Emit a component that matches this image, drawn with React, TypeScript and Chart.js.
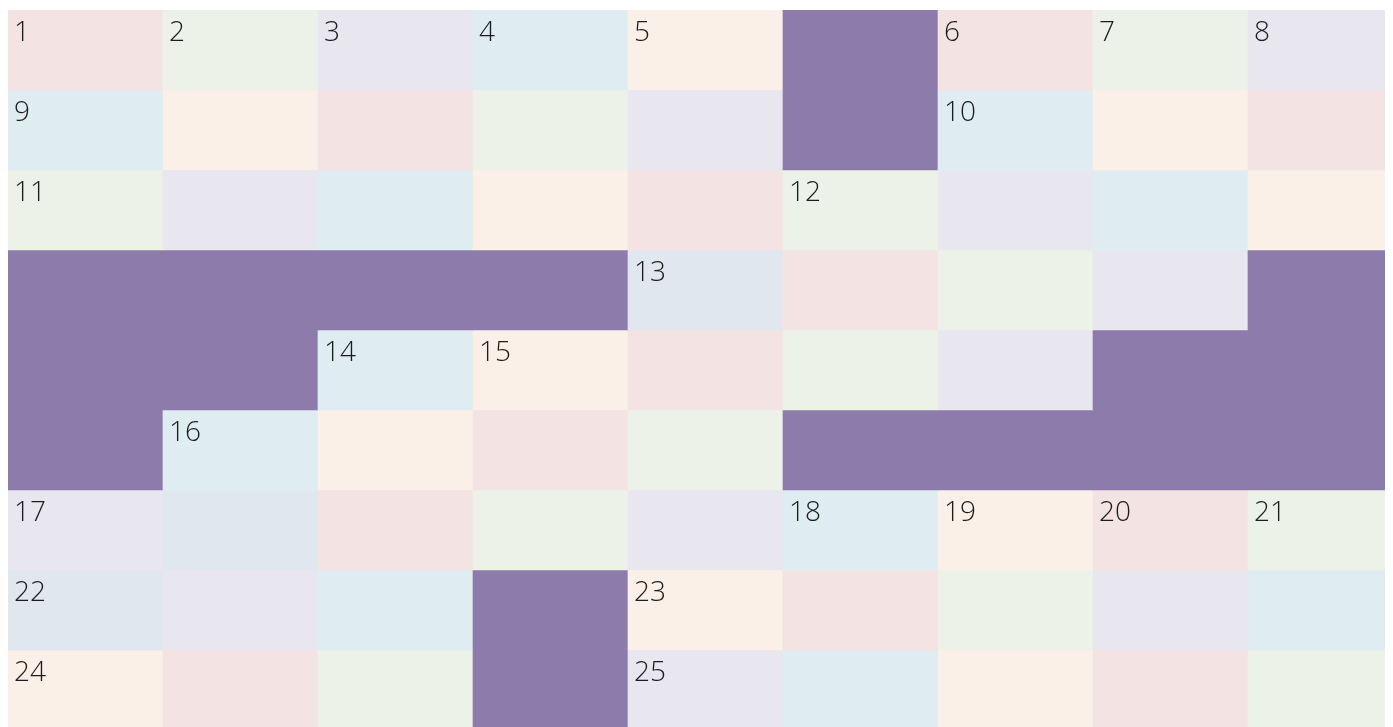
import React, { useEffect, useRef } from "react";
import { Chart, registerables } from "chart.js";

Chart.register(...registerables);

// Grid: 9 columns x 9 rows. "B" = blocked cell.
const columns = ["c1", "c2", "c3", "c4", "c5", "c6", "c7", "c8", "c9"];

// Cell colour keys per row (p=pink, g=green, l=lavender, b=blue, c=cream, s=slate, B=blocked)
const row1 = ["p", "g", "l", "b", "c", "B", "p", "g", "l"];
const row2 = ["b", "c", "p", "g", "l", "B", "b", "c", "p"];
const row3 = ["g", "l", "b", "c", "p", "g", "l", "b", "c"];
const row4 = ["B", "B", "B", "B", "s", "p", "g", "l", "B"];
const row5 = ["B", "B", "b", "c", "p", "g", "l", "B", "B"];
const row6 = ["B", "b", "c", "p", "g", "B", "B", "B", "B"];
const row7 = ["l", "s", "p", "g", "l", "b", "c", "p", "g"];
const row8 = ["s", "l", "b", "B", "c", "p", "g", "l", "b"];
const row9 = ["c", "p", "g", "B", "l", "b", "c", "p", "g"];

// Clue numbers per row (0 = none)
const nums1 = [1, 2, 3, 4, 5, 0, 6, 7, 8];
const nums2 = [9, 0, 0, 0, 0, 0, 10, 0, 0];
const nums3 = [11, 0, 0, 0, 0, 12, 0, 0, 0];
const nums4 = [0, 0, 0, 0, 13, 0, 0, 0, 0];
const nums5 = [0, 0, 14, 15, 0, 0, 0, 0, 0];
const nums6 = [0, 16, 0, 0, 0, 0, 0, 0, 0];
const nums7 = [17, 0, 0, 0, 0, 18, 19, 20, 21];
const nums8 = [22, 0, 0, 0, 23, 0, 0, 0, 0];
const nums9 = [24, 0, 0, 0, 25, 0, 0, 0, 0];

const rows = [row1, row2, row3, row4, row5, row6, row7, row8, row9];
const nums = [nums1, nums2, nums3, nums4, nums5, nums6, nums7, nums8, nums9];

const palette: Record<string, string> = {
  p: "#F3E3E3",
  g: "#EDF2E8",
  l: "#E8E6EE",
  b: "#DFEDF2",
  c: "#FAF0E7",
  s: "#E1E7EF",
  B: "#8C7BAB",
};

const numberPlugin = {
  id: "cellNumbers",
  afterDatasetsDraw(chart: any) {
    const ctx = chart.ctx;
    ctx.save();
    ctx.fillStyle = "#1c1c1c";
    ctx.font = "300 28px 'Open Sans'";
    ctx.textBaseline = "alphabetic";
    ctx.textAlign = "left";
    chart.data.datasets.forEach((ds: any, di: number) => {
      const meta = chart.getDatasetMeta(di);
      meta.data.forEach((bar: any, ci: number) => {
        const n = nums[di][ci];
        if (!n) return;
        const left = bar.x - bar.width / 2;
        const top = Math.min(bar.y, bar.base);
        ctx.fillText(String(n), left + 6, top + 31);
      });
    });
    ctx.restore();
  },
};

export default function App() {
  const ref = useRef<HTMLCanvasElement | null>(null);
  useEffect(() => {
    if (!ref.current) return;
    const datasets = rows.map((r, ri) => ({
      label: "row" + (ri + 1),
      data: r.map(() => [ri, ri + 1] as [number, number]),
      backgroundColor: r.map((k) => palette[k]),
      borderWidth: 0,
      categoryPercentage: 1,
      barPercentage: 1,
      grouped: false,
    }));
    const chart = new Chart(ref.current, {
      type: "bar",
      data: { labels: columns, datasets },
      options: {
        animation: false,
        responsive: false,
        maintainAspectRatio: false,
        layout: { padding: 0 },
        plugins: { legend: { display: false }, tooltip: { enabled: false } },
        scales: {
          x: { display: false, offset: true, grid: { display: false } },
          y: { display: false, min: 0, max: 9, reverse: true },
        },
      },
      plugins: [numberPlugin],
    });
    return () => chart.destroy();
  }, []);
  return (
    <div style={{ paddingTop: 2 }}>
      <canvas ref={ref} width={1395} height={720} style={{ display: "block" }} />
    </div>
  );
}
